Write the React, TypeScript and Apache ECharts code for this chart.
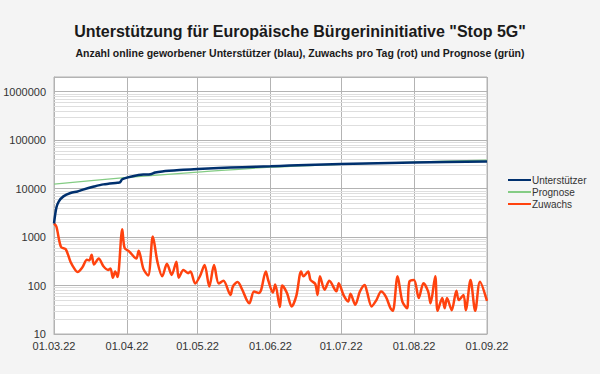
import React, { useEffect, useRef } from "react";
import * as echarts from "echarts";

const TITLE = 'Unterstützung für Europäische Bürgerininitiative "Stop 5G"';
const SUBTITLE = "Anzahl online geworbener Unterstützer (blau), Zuwachs pro Tag (rot) und Prognose (grün)";
const SERIES_NAMES = ["Unterstützer", "Prognose", "Zuwachs"];

// day offsets from 01.03.2022
const supporterDays = [0, 1, 2, 4, 7, 10, 12, 17, 21, 27, 28, 29, 31, 34, 38, 41, 43, 46, 55, 61, 70, 80, 92, 100, 122, 153, 184];
const supporterValues = [1900, 4000, 5400, 6900, 8100, 8700, 9400, 11000, 12200, 13200, 13400, 15500, 16800, 18200, 19400, 19800, 21500, 22600, 24300, 25300, 26600, 27600, 28800, 29800, 32000, 34500, 36200];

const forecastDays = [0, 30, 61, 92, 122, 153, 184];
const forecastValues = [12300, 16800, 21800, 27500, 31500, 35300, 38500];

const growthDays = [0, 1, 3, 5, 7, 9, 10, 12, 14, 15, 16, 17, 19, 21, 23, 24, 25, 26, 27, 29, 30, 32, 34, 35, 36, 38, 40, 42, 44, 46, 48, 50, 52, 53, 55, 57, 58, 60, 62, 64, 66, 68, 70, 72, 75, 76, 78, 80, 82, 83, 85, 87, 88, 90, 91, 93, 94, 96, 97, 99, 101, 103, 105, 106, 108, 109, 111, 112, 113, 115, 117, 120, 121, 123, 125, 126, 128, 130, 132, 133, 135, 137, 139, 141, 143, 144, 146, 148, 150, 151, 153, 155, 157, 159, 160, 162, 163, 165, 166, 167, 169, 171, 172, 174, 175, 177, 179, 181, 184];
const growthValues = [1900, 1650, 620, 560, 310, 210, 190, 235, 340, 330, 430, 270, 360, 250, 210, 225, 145, 195, 150, 1450, 600, 500, 390, 360, 520, 220, 160, 1020, 300, 155, 280, 165, 310, 145, 210, 180, 195, 110, 155, 265, 95, 265, 110, 125, 64, 95, 118, 82, 49, 43, 75, 70, 80, 195, 130, 72, 105, 36, 100, 70, 37, 62, 195, 155, 195, 130, 108, 64, 155, 82, 125, 76, 112, 64, 47, 68, 40, 75, 103, 75, 37, 50, 75, 59, 34, 30, 155, 47, 34, 120, 130, 55, 112, 75, 43, 155, 30, 55, 34, 55, 31, 78, 50, 64, 31, 130, 30, 120, 48];

const dayToTime = (d: number) => new Date(2022, 2, 1 + d).getTime();
const pairs = (days: number[], vals: number[]) => days.map((d, i) => [dayToTime(d), vals[i]]);

const minorLevels: number[] = [];
for (let dec = 10; dec < 1000000; dec *= 10) {
  for (let k = 2; k <= 9; k++) minorLevels.push(k * dec);
}

const FONT = "Liberation Sans, Arial, sans-serif";
const BLUE = "#00306e";
const GREEN = "#84cc84";
const RED = "#ff420e";

export default function App() {
  const ref = useRef<HTMLDivElement>(null);
  useEffect(() => {
    if (!ref.current) return;
    const chart = echarts.init(ref.current, null, { renderer: "svg" });
    chart.setOption({
      animation: false,
      backgroundColor: "#f4f4f4",
      title: [
        {
          text: TITLE,
          left: "center",
          top: 18,
          textStyle: { fontFamily: FONT, fontSize: 16, fontWeight: "bold", color: "#1a1a1a" },
        },
        {
          text: SUBTITLE,
          left: "center",
          top: 42,
          textStyle: { fontFamily: FONT, fontSize: 10.5, fontWeight: "bold", color: "#1a1a1a" },
        },
      ],
      legend: {
        orient: "vertical",
        left: 503,
        top: 170,
        icon: "rect",
        itemWidth: 23,
        itemHeight: 2,
        itemGap: 2,
        data: SERIES_NAMES.map((n, i) => ({
          name: n,
          itemStyle: { color: [BLUE, GREEN, RED][i] },
        })),
        textStyle: { fontFamily: FONT, fontSize: 10, color: "#333", padding: [0, 0, 0, -4] },
      },
      grid: {
        left: 54,
        right: 113,
        top: 77,
        bottom: 40,
        show: true,
        backgroundColor: "#ffffff",
        borderColor: "#b3b3b3",
        borderWidth: 1,
      },
      xAxis: {
        type: "time",
        min: dayToTime(0),
        max: new Date(2022, 8, 1).getTime(),
        splitNumber: 7,
        minInterval: 28 * 86400000,
        axisLine: { lineStyle: { color: "#b3b3b3" } },
        axisTick: { show: false },
        splitLine: { show: true, lineStyle: { color: "#b3b3b3" } },
        axisLabel: {
          fontFamily: FONT,
          fontSize: 11,
          color: "#333",
          margin: 6,
          hideOverlap: false,
          showMinLabel: true,
          showMaxLabel: true,
          formatter: (v: number) => {
            const d = new Date(v);
            const p = (n: number) => String(n).padStart(2, "0");
            return `${p(d.getDate())}.${p(d.getMonth() + 1)}.${p(d.getFullYear() % 100)}`;
          },
        },
      },
      yAxis: {
        type: "log",
        logBase: 10,
        min: 10,
        max: 2000000,
        axisLine: { show: true, lineStyle: { color: "#b3b3b3" } },
        axisTick: { show: false },
        splitLine: { show: true, lineStyle: { color: "#b3b3b3" } },
        axisLabel: {
          fontFamily: FONT,
          fontSize: 11,
          color: "#333",
          margin: 8,
          showMaxLabel: false,
          formatter: (v: number) => {
            const l = Math.log10(v);
            return Math.abs(l - Math.round(l)) < 1e-6 ? String(Math.round(v)) : "";
          },
        },
      },
      series: [
        {
          name: "__minor",
          type: "line",
          data: [],
          z: 1,
          silent: true,
          markLine: {
            silent: true,
            z: 1,
            symbol: "none",
            label: { show: false },
            lineStyle: { color: "#dedede", width: 1, type: "solid" },
            data: minorLevels.map((v) => ({ yAxis: v })),
          },
        },
        {
          name: "Unterstützer",
          type: "line",
          z: 4,
          data: pairs(supporterDays, supporterValues),
          symbol: "none",
          smooth: 0.3,
          color: BLUE,
          lineStyle: { width: 2.5, color: BLUE },
        },
        {
          name: "Prognose",
          type: "line",
          z: 3,
          data: pairs(forecastDays, forecastValues),
          symbol: "none",
          smooth: 0.3,
          color: GREEN,
          lineStyle: { width: 1.2, color: GREEN },
        },
        {
          name: "Zuwachs",
          type: "line",
          z: 3,
          data: pairs(growthDays, growthValues),
          symbol: "none",
          smooth: 0.3,
          color: RED,
          lineStyle: { width: 2.5, color: RED },
        },
      ],
    });
    return () => chart.dispose();
  }, []);
  return <div ref={ref} style={{ position: "absolute", left: 0, top: 0, width: 600, height: 374 }} />;
}
